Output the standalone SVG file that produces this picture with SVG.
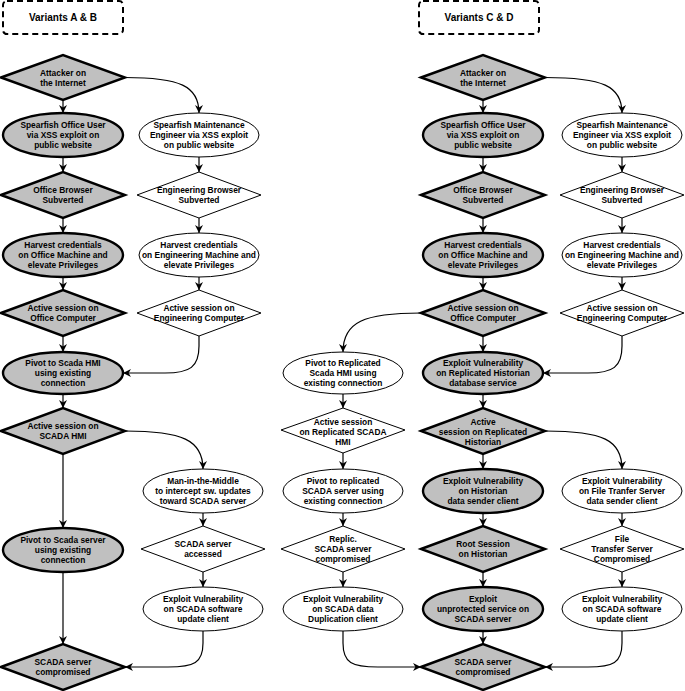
<svg xmlns="http://www.w3.org/2000/svg" width="685" height="691" viewBox="0 0 685 691">
<defs>
<style>
.g{fill:#c0c0c0;stroke:#000;stroke-width:2.4}
.w{fill:#fff;stroke:#000;stroke-width:1}
.tb{fill:#fff;stroke:#000;stroke-width:2;stroke-dasharray:6 4}
text{font-family:"Liberation Sans",Arial,sans-serif;font-weight:bold;font-size:8.4px;text-anchor:middle;fill:#000}
.ti{font-size:10px}
.c path{fill:none;stroke:#000;stroke-width:1.2;marker-end:url(#a)}
</style>
<marker id="a" viewBox="0 0 10 10" refX="10" refY="5" markerWidth="8" markerHeight="8" markerUnits="userSpaceOnUse" orient="auto">
<path d="M0,0 L10,5 L0,10 L3,5 z" fill="#000"/>
</marker>
</defs>
<rect width="685" height="691" fill="#fff"/>

<g id="connectors" class="c">
<path d="M63,100 L63,113"/>
<path d="M125,77.5 C180,77.5 199,86 199,113"/>
<path d="M63,157 L63,172"/>
<path d="M199,157 L199,172"/>
<path d="M63,218 L63,233"/>
<path d="M199,218 L199,233"/>
<path d="M63,277 L63,290"/>
<path d="M199,277 L199,290"/>
<path d="M63,336 L63,352"/>
<path d="M199,336 L199,346 C199,367 190,373 165,373 L123,373"/>
<path d="M63,394 L63,408"/>
<path d="M125,431 C182,431 203,440 203,469"/>
<path d="M63,454 L63,528"/>
<path d="M203,513 L203,526"/>
<path d="M203,572 L203,587"/>
<path d="M63,572 L63,644"/>
<path d="M203,631 L203,643 C203,663 194,667 168,667 L125,667"/>

<path d="M483,100 L483,113"/>
<path d="M545,77.5 C603,77.5 622,86 622,113"/>
<path d="M483,157 L483,172"/>
<path d="M622,157 L622,172"/>
<path d="M483,218 L483,233"/>
<path d="M622,218 L622,233"/>
<path d="M483,277 L483,290"/>
<path d="M622,277 L622,290"/>
<path d="M421,313 C364,313 343,322 343,352"/>
<path d="M483,336 L483,352"/>
<path d="M622,336 L622,346 C622,367 613,373 588,373 L543,373"/>
<path d="M343,394 L343,408"/>
<path d="M483,394 L483,408"/>
<path d="M545,431 C603,431 622,440 622,469"/>
<path d="M343,453 L343,469"/>
<path d="M483,454 L483,469"/>
<path d="M343,513 L343,526"/>
<path d="M483,513 L483,526"/>
<path d="M622,513 L622,526"/>
<path d="M343,572 L343,587"/>
<path d="M483,572 L483,587"/>
<path d="M622,572 L622,587"/>
<path d="M343,631 L343,643 C343,663 352,667 378,667 L421,667"/>
<path d="M483,631 L483,644"/>
<path d="M622,631 L622,643 C622,663 613,667 588,667 L545,667"/>
</g>

<g id="titleAB"><rect class="tb" x="3" y="1" width="120" height="33" rx="4"/><text class="ti" x="63" y="21">Variants A &amp; B</text></g>
<g id="titleCD"><rect class="tb" x="419" y="1" width="120" height="33" rx="4"/><text class="ti" x="479" y="21">Variants C &amp; D</text></g>

<!-- Left A&B, column 1 -->
<g id="ab_attacker"><polygon class="g" points="1,77.5 63,55 125,77.5 63,100"/><text x="63" y="76">Attacker on</text><text x="63" y="86">the Internet</text></g>
<g id="ab_spear_office"><ellipse class="g" cx="63" cy="135" rx="60" ry="22"/><text x="63" y="128">Spearfish Office User</text><text x="63" y="138">via XSS exploit on</text><text x="63" y="148">public website</text></g>
<g id="ab_office_browser"><polygon class="g" points="1,195 63,172 125,195 63,218"/><text x="63" y="193">Office Browser</text><text x="63" y="203">Subverted</text></g>
<g id="ab_harvest_office"><ellipse class="g" cx="63" cy="255" rx="60" ry="22"/><text x="63" y="248">Harvest credentials</text><text x="63" y="258">on Office Machine and</text><text x="63" y="268">elevate Privileges</text></g>
<g id="ab_active_office"><polygon class="g" points="1,313 63,290 125,313 63,336"/><text x="63" y="311">Active session on</text><text x="63" y="321">Office Computer</text></g>
<g id="ab_pivot_hmi"><ellipse class="g" cx="63" cy="373" rx="60" ry="21"/><text x="63" y="366">Pivot to Scada HMI</text><text x="63" y="376">using existing</text><text x="63" y="386">connection</text></g>
<g id="ab_active_hmi"><polygon class="g" points="1,431 63,408 125,431 63,454"/><text x="63" y="429">Active session on</text><text x="63" y="439">SCADA HMI</text></g>
<g id="ab_pivot_server"><ellipse class="g" cx="63" cy="550" rx="60" ry="22"/><text x="63" y="543">Pivot to Scada server</text><text x="63" y="553">using existing</text><text x="63" y="563">connection</text></g>
<g id="ab_compromised"><polygon class="g" points="1,667 63,644 125,667 63,690"/><text x="63" y="665">SCADA server</text><text x="63" y="675">compromised</text></g>

<!-- Left A&B, column 2 -->
<g id="ab_spear_maint"><ellipse class="w" cx="199" cy="135" rx="60" ry="22"/><text x="199" y="128">Spearfish Maintenance</text><text x="199" y="138">Engineer via XSS exploit</text><text x="199" y="148">on public website</text></g>
<g id="ab_eng_browser"><polygon class="w" points="137,195 199,172 261,195 199,218"/><text x="199" y="193">Engineering Browser</text><text x="199" y="203">Subverted</text></g>
<g id="ab_harvest_eng"><ellipse class="w" cx="199" cy="255" rx="60" ry="22"/><text x="199" y="248">Harvest credentials</text><text x="199" y="258">on Engineering Machine and</text><text x="199" y="268">elevate Privileges</text></g>
<g id="ab_active_eng"><polygon class="w" points="137,313 199,290 261,313 199,336"/><text x="199" y="311">Active session on</text><text x="199" y="321">Engineering Computer</text></g>
<g id="ab_mitm"><ellipse class="w" cx="203" cy="491" rx="60" ry="22"/><text x="203" y="484">Man-in-the-Middle</text><text x="203" y="494">to intercept sw. updates</text><text x="203" y="504">toward SCADA server</text></g>
<g id="ab_server_accessed"><polygon class="w" points="141,549 203,526 265,549 203,572"/><text x="203" y="547">SCADA server</text><text x="203" y="557">accessed</text></g>
<g id="ab_exploit_update"><ellipse class="w" cx="203" cy="609" rx="60" ry="22"/><text x="203" y="602">Exploit Vulnerability</text><text x="203" y="612">on SCADA software</text><text x="203" y="622">update client</text></g>

<!-- Right C&D, replicated column -->
<g id="cd_pivot_rep_hmi"><ellipse class="w" cx="343" cy="373" rx="60" ry="21"/><text x="343" y="366">Pivot to Replicated</text><text x="343" y="376">Scada HMI using</text><text x="343" y="386">existing connection</text></g>
<g id="cd_active_rep_hmi"><polygon class="w" points="281,430 343,408 405,430 343,453"/><text x="343" y="425">Active session</text><text x="343" y="435">on Replicated SCADA</text><text x="343" y="445">HMI</text></g>
<g id="cd_pivot_rep_server"><ellipse class="w" cx="343" cy="491" rx="60" ry="22"/><text x="343" y="484">Pivot to replicated</text><text x="343" y="494">SCADA server using</text><text x="343" y="504">existing connection</text></g>
<g id="cd_replic_compromised"><polygon class="w" points="281,549 343,526 405,549 343,572"/><text x="343" y="542">Replic.</text><text x="343" y="552">SCADA server</text><text x="343" y="562">compromised</text></g>
<g id="cd_exploit_dup"><ellipse class="w" cx="343" cy="609" rx="60" ry="22"/><text x="343" y="602">Exploit Vulnerability</text><text x="343" y="612">on SCADA data</text><text x="343" y="622">Duplication client</text></g>

<!-- Right C&D, main column -->
<g id="cd_attacker"><polygon class="g" points="421,77.5 483,55 545,77.5 483,100"/><text x="483" y="76">Attacker on</text><text x="483" y="86">the Internet</text></g>
<g id="cd_spear_office"><ellipse class="g" cx="483" cy="135" rx="60" ry="22"/><text x="483" y="128">Spearfish Office User</text><text x="483" y="138">via XSS exploit on</text><text x="483" y="148">public website</text></g>
<g id="cd_office_browser"><polygon class="g" points="421,195 483,172 545,195 483,218"/><text x="483" y="193">Office Browser</text><text x="483" y="203">Subverted</text></g>
<g id="cd_harvest_office"><ellipse class="g" cx="483" cy="255" rx="60" ry="22"/><text x="483" y="248">Harvest credentials</text><text x="483" y="258">on Office Machine and</text><text x="483" y="268">elevate Privileges</text></g>
<g id="cd_active_office"><polygon class="g" points="421,313 483,290 545,313 483,336"/><text x="483" y="311">Active session on</text><text x="483" y="321">Office Computer</text></g>
<g id="cd_exploit_rep_hist"><ellipse class="g" cx="483" cy="373" rx="60" ry="21"/><text x="483" y="366">Exploit Vulnerability</text><text x="483" y="376">on Replicated Historian</text><text x="483" y="386">database service</text></g>
<g id="cd_active_rep_hist"><polygon class="g" points="421,431 483,408 545,431 483,454"/><text x="483" y="425">Active</text><text x="483" y="435">session on Replicated</text><text x="483" y="445">Historian</text></g>
<g id="cd_exploit_hist_sender"><ellipse class="g" cx="483" cy="491" rx="60" ry="22"/><text x="483" y="484">Exploit Vulnerability</text><text x="483" y="494">on Historian</text><text x="483" y="504">data sender client</text></g>
<g id="cd_root_hist"><polygon class="g" points="421,549 483,526 545,549 483,572"/><text x="483" y="547">Root Session</text><text x="483" y="557">on Historian</text></g>
<g id="cd_exploit_unprot"><ellipse class="g" cx="483" cy="609" rx="60" ry="22"/><text x="483" y="602">Exploit</text><text x="483" y="612">unprotected service on</text><text x="483" y="622">SCADA server</text></g>
<g id="cd_compromised"><polygon class="g" points="421,667 483,644 545,667 483,690"/><text x="483" y="665">SCADA server</text><text x="483" y="675">compromised</text></g>

<!-- Right C&D, engineering column -->
<g id="cd_spear_maint"><ellipse class="w" cx="622" cy="135" rx="60" ry="22"/><text x="622" y="128">Spearfish Maintenance</text><text x="622" y="138">Engineer via XSS exploit</text><text x="622" y="148">on public website</text></g>
<g id="cd_eng_browser"><polygon class="w" points="560,195 622,172 684,195 622,218"/><text x="622" y="193">Engineering Browser</text><text x="622" y="203">Subverted</text></g>
<g id="cd_harvest_eng"><ellipse class="w" cx="622" cy="255" rx="60" ry="22"/><text x="622" y="248">Harvest credentials</text><text x="622" y="258">on Engineering Machine and</text><text x="622" y="268">elevate Privileges</text></g>
<g id="cd_active_eng"><polygon class="w" points="560,313 622,290 684,313 622,336"/><text x="622" y="311">Active session on</text><text x="622" y="321">Engineering Computer</text></g>
<g id="cd_exploit_fts"><ellipse class="w" cx="622" cy="491" rx="60" ry="22"/><text x="622" y="484">Exploit Vulnerability</text><text x="622" y="494">on File Tranfer Server</text><text x="622" y="504">data sender client</text></g>
<g id="cd_fts_compromised"><polygon class="w" points="560,549 622,526 684,549 622,572"/><text x="622" y="542">File</text><text x="622" y="552">Transfer Server</text><text x="622" y="562">Compromised</text></g>
<g id="cd_exploit_update"><ellipse class="w" cx="622" cy="609" rx="60" ry="22"/><text x="622" y="602">Exploit Vulnerability</text><text x="622" y="612">on SCADA software</text><text x="622" y="622">update client</text></g>
</svg>
